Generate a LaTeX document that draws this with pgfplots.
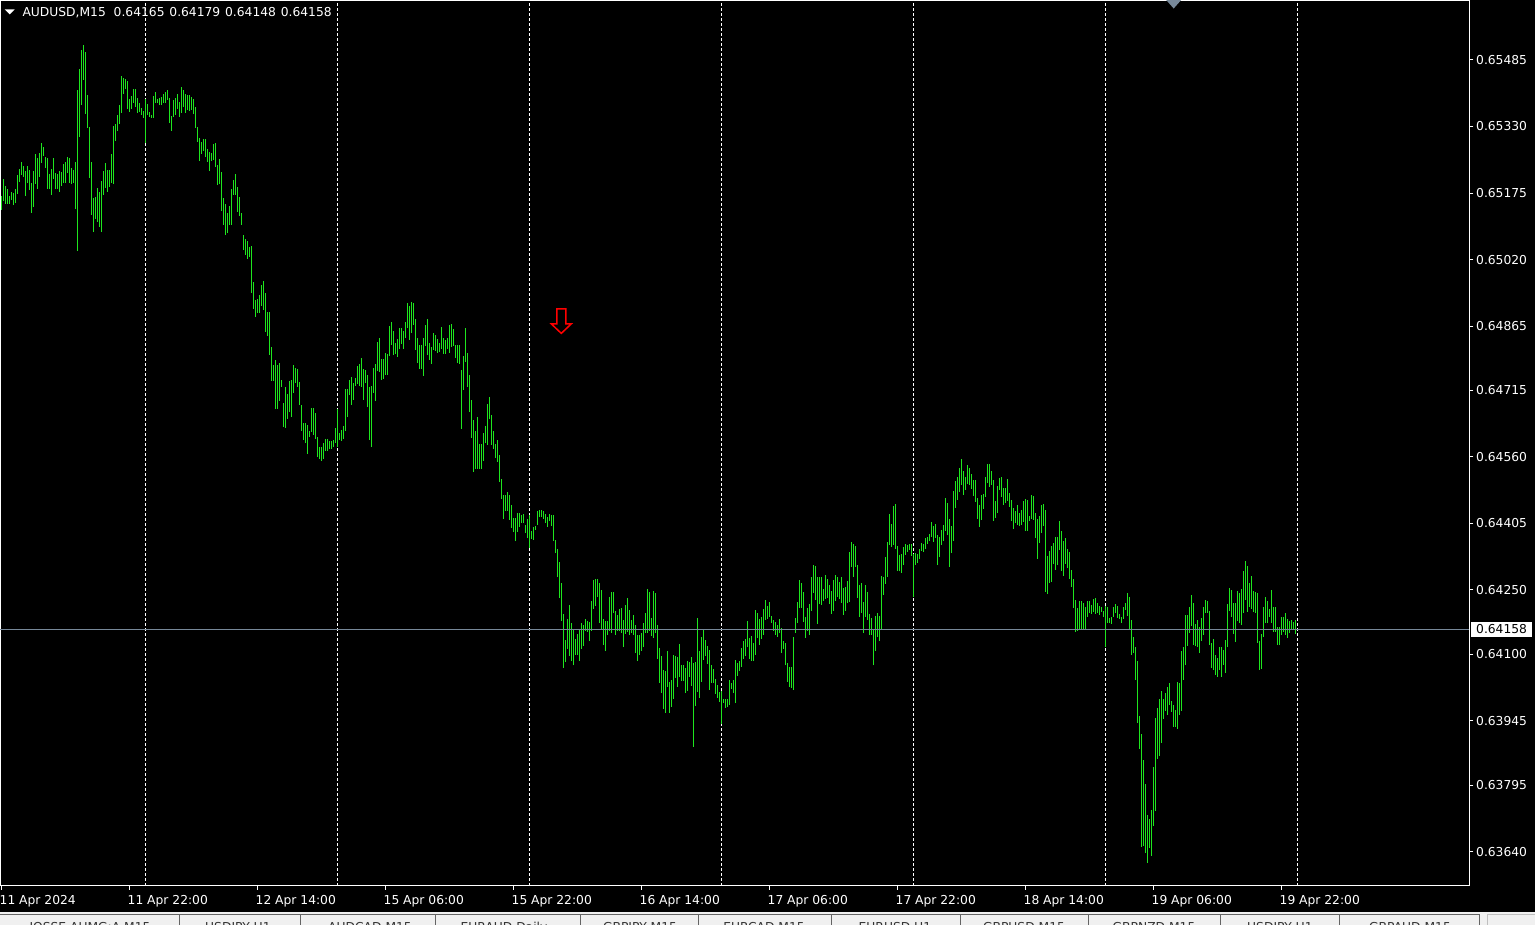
\documentclass[border=0pt]{standalone}
\usepackage{fontspec}
\setmainfont{DejaVu Sans}
\usepackage{pgfplots}
\pgfplotsset{compat=1.18}
\definecolor{bargreen}{RGB}{30,230,30}
\definecolor{slate}{RGB}{119,136,153}
\definecolor{tabbg}{RGB}{240,240,240}
\definecolor{tabline}{RGB}{100,100,100}
\newcommand\mt{\fontsize{12.3bp}{14bp}\selectfont}

\begin{document}
\begin{tikzpicture}
\useasboundingbox (0,0) rectangle (1535bp,-925bp);
\fill[black] (0,0) rectangle (1535bp,-925bp);
% terminal tabs strip
\fill[tabbg] (0,-912.3bp) rectangle (1535bp,-925bp);
\draw[tabline, line width=1bp] (0,-914.8bp) -- (1479.5bp,-914.8bp) -- (1479.5bp,-925bp);
\draw[black!25, line width=1bp] (1487bp,-925bp) -- (1487bp,-914.8bp) -- (1535bp,-914.8bp);
\foreach \x in {179,300,435,580,698,831,960,1088,1220,1339}
  \draw[tabline, line width=1bp] (\x bp,-914.8bp) -- (\x bp,-925bp);
\begin{scope}[every node/.style={anchor=base, inner sep=0pt, font=\mt, text=black!80}]
\node at (90bp,-931bp) {IOSSE,AUMG:A,M15};
\node at (238bp,-931bp) {USDJPY,H1};
\node at (370bp,-931bp) {AUDCAD,M15};
\node at (504bp,-931bp) {EURAUD,Daily};
\node at (640bp,-931bp) {GBPJPY,M15};
\node at (764bp,-931bp) {EURCAD,M15};
\node at (895bp,-931bp) {EURUSD,H1};
\node at (1024bp,-931bp) {GBPUSD,M15};
\node at (1154bp,-931bp) {GBPNZD,M15};
\node at (1280bp,-931bp) {USDJPY,H1};
\node at (1410bp,-931bp) {GBPAUD,M15};
\end{scope}
\begin{axis}[
  at={(0,0)}, anchor=north west,
  scale only axis, width=1469.5bp, height=885.5bp,
  xmin=-0.75, xmax=734, ymin=0.635612, ymax=0.656248,
  clip=false,
  axis line style={white, line width=1bp},
  tick align=outside, major tick length=4bp,
  tick style={white, line width=1bp},
  xtick pos=left, ytick pos=right, yticklabel pos=right,
  xtick={0,64,128,192,256,320,384,448,512,576,640},
  xticklabels={11 Apr 2024, 11 Apr 22:00, 12 Apr 14:00, 15 Apr 06:00, 15 Apr 22:00, 16 Apr 14:00, 17 Apr 06:00, 17 Apr 22:00, 18 Apr 14:00, 19 Apr 06:00, 19 Apr 22:00},
  ytick={0.65485,0.65330,0.65175,0.65020,0.64865,0.64715,0.64560,0.64405,0.64250,0.64100,0.63945,0.63795,0.63640},
  yticklabels={0.65485,0.65330,0.65175,0.65020,0.64865,0.64715,0.64560,0.64405,0.64250,0.64100,0.63945,0.63795,0.63640},
  scaled y ticks=false,
  ticklabel style={font=\mt, text=white, inner sep=0pt},
  xticklabel style={anchor=north west, xshift=-2bp, yshift=-6bp},
  yticklabel style={anchor=west, xshift=2.5bp},
  extra x ticks={72,168,264,360,456,552,648},
  extra x tick labels={},
  extra x tick style={grid=major, tick style={draw=none}},
  major grid style={white, line width=1bp, dash pattern=on 3bp off 2bp},
]
% AUDUSD M15 bars from 11 Apr 06:00: each bar = (index, low) -- (index, high)
\addplot[forget plot, bargreen, line width=1bp, mark=none, empty line=jump, unbounded coords=jump] table[x=i, y=p] {
i p
0 0.65136
0 0.65168

1 0.65157
1 0.65208

2 0.65150
2 0.65192

3 0.65150
3 0.65185

4 0.65150
4 0.65168

5 0.65159
5 0.65178

6 0.65147
6 0.65175

7 0.65152
7 0.65185

8 0.65173
8 0.65217

9 0.65201
9 0.65231

10 0.65217
10 0.65248

11 0.65213
11 0.65238

12 0.65168
12 0.65227

13 0.65199
13 0.65238

14 0.65182
14 0.65229

15 0.65129
15 0.65199

16 0.65143
16 0.65227

17 0.65196
17 0.65266

18 0.65185
18 0.65257

19 0.65213
19 0.65269

20 0.65245
20 0.65292

21 0.65262
21 0.65283

22 0.65234
22 0.65259

23 0.65185
23 0.65257

24 0.65185
24 0.65220

25 0.65171
25 0.65231

26 0.65208
26 0.65257

27 0.65185
27 0.65222

28 0.65185
28 0.65220

29 0.65178
29 0.65227

30 0.65192
30 0.65224

31 0.65199
31 0.65243

32 0.65199
32 0.65248

33 0.65222
33 0.65259

34 0.65199
34 0.65257

35 0.65196
35 0.65234

36 0.65199
36 0.65229

37 0.65138
37 0.65248

38 0.65040
38 0.65415

39 0.65306
39 0.65464

40 0.65380
40 0.65509

41 0.65439
41 0.65520

42 0.65359
42 0.65504

43 0.65327
43 0.65404

44 0.65210
44 0.65329

45 0.65124
45 0.65248

46 0.65084
46 0.65164

47 0.65115
47 0.65166

48 0.65108
48 0.65187

49 0.65096
49 0.65178

50 0.65084
50 0.65203

51 0.65171
51 0.65227

52 0.65187
52 0.65245

53 0.65178
53 0.65229

54 0.65190
54 0.65229

55 0.65199
55 0.65266

56 0.65196
56 0.65331

57 0.65297
57 0.65336

58 0.65320
58 0.65357

59 0.65336
59 0.65380

60 0.65362
60 0.65448

61 0.65406
61 0.65443

62 0.65418
62 0.65441

63 0.65371
63 0.65436

64 0.65364
64 0.65394

65 0.65371
65 0.65401

66 0.65385
66 0.65418

67 0.65376
67 0.65418

68 0.65362
68 0.65397

69 0.65364
69 0.65385

70 0.65357
70 0.65373

71 0.65350
71 0.65366

72 0.65292
72 0.65394

73 0.65357
73 0.65383

74 0.65352
74 0.65364

75 0.65350
75 0.65357

76 0.65350
76 0.65401

77 0.65385
77 0.65411

78 0.65385
78 0.65394

79 0.65380
79 0.65397

80 0.65380
80 0.65399

81 0.65385
81 0.65406

82 0.65385
82 0.65411

83 0.65392
83 0.65415

84 0.65338
84 0.65397

85 0.65320
85 0.65355

86 0.65352
86 0.65392

87 0.65357
87 0.65397

88 0.65371
88 0.65406

89 0.65352
89 0.65387

90 0.65362
90 0.65422

91 0.65376
91 0.65415

92 0.65362
92 0.65406

93 0.65369
93 0.65404

94 0.65366
94 0.65404

95 0.65369
95 0.65399

96 0.65359
96 0.65394

97 0.65327
97 0.65376

98 0.65294
98 0.65329

99 0.65250
99 0.65303

100 0.65266
100 0.65294

101 0.65273
101 0.65301

102 0.65259
102 0.65301

103 0.65248
103 0.65278

104 0.65227
104 0.65271

105 0.65250
105 0.65269

106 0.65252
106 0.65290

107 0.65236
107 0.65292

108 0.65194
108 0.65241

109 0.65196
109 0.65255

110 0.65133
110 0.65224

111 0.65101
111 0.65164

112 0.65077
112 0.65150

113 0.65082
113 0.65129

114 0.65101
114 0.65145

115 0.65101
115 0.65185

116 0.65171
116 0.65206

117 0.65171
117 0.65220

118 0.65131
118 0.65190

119 0.65122
119 0.65166

120 0.65101
120 0.65129

121 0.65042
121 0.65077

122 0.65031
122 0.65068

123 0.65021
123 0.65063

124 0.65026
124 0.65049

125 0.64942
125 0.65052

126 0.64905
126 0.64968

127 0.64886
127 0.64926

128 0.64896
128 0.64928

129 0.64896
129 0.64938

130 0.64912
130 0.64961

131 0.64903
131 0.64970

132 0.64851
132 0.64942

133 0.64842
133 0.64898

134 0.64798
134 0.64898

135 0.64737
135 0.64816

136 0.64737
136 0.64774

137 0.64672
137 0.64786

138 0.64672
138 0.64774

139 0.64691
139 0.64779

140 0.64723
140 0.64740

141 0.64630
141 0.64686

142 0.64628
142 0.64723

143 0.64649
143 0.64707

144 0.64665
144 0.64737

145 0.64653
145 0.64740

146 0.64709
146 0.64774

147 0.64733
147 0.64768

148 0.64723
148 0.64765

149 0.64681
149 0.64735

150 0.64621
150 0.64681

151 0.64600
151 0.64639

152 0.64593
152 0.64639

153 0.64567
153 0.64635

154 0.64607
154 0.64621

155 0.64619
155 0.64674

156 0.64612
156 0.64674

157 0.64602
157 0.64663

158 0.64560
158 0.64607

159 0.64556
159 0.64583

160 0.64551
160 0.64583

161 0.64556
161 0.64593

162 0.64574
162 0.64602

163 0.64574
163 0.64602

164 0.64579
164 0.64598

165 0.64579
165 0.64598

166 0.64583
166 0.64600

167 0.64593
167 0.64628

168 0.64583
168 0.64672

169 0.64600
169 0.64616

170 0.64598
170 0.64623

171 0.64602
171 0.64632

172 0.64621
172 0.64719

173 0.64653
173 0.64719

174 0.64705
174 0.64740

175 0.64681
175 0.64747

176 0.64693
176 0.64733

177 0.64726
177 0.64744

178 0.64731
178 0.64772

179 0.64726
179 0.64777

180 0.64723
180 0.64791

181 0.64693
181 0.64765

182 0.64733
182 0.64763

183 0.64677
183 0.64751

184 0.64600
184 0.64723

185 0.64583
185 0.64726

186 0.64709
186 0.64768

187 0.64691
187 0.64777

188 0.64761
188 0.64828

189 0.64758
189 0.64837

190 0.64740
190 0.64788

191 0.64742
191 0.64788

192 0.64751
192 0.64803

193 0.64751
193 0.64800

194 0.64796
194 0.64865

195 0.64821
195 0.64875

196 0.64798
196 0.64854

197 0.64800
197 0.64826

198 0.64794
198 0.64835

199 0.64812
199 0.64861

200 0.64824
200 0.64861

201 0.64812
201 0.64854

202 0.64837
202 0.64875

203 0.64861
203 0.64919

204 0.64833
204 0.64912

205 0.64849
205 0.64921

206 0.64868
206 0.64919

207 0.64810
207 0.64882

208 0.64779
208 0.64837

209 0.64765
209 0.64821

210 0.64765
210 0.64821

211 0.64749
211 0.64837

212 0.64819
212 0.64868

213 0.64798
213 0.64882

214 0.64786
214 0.64826

215 0.64777
215 0.64816

216 0.64810
216 0.64849

217 0.64807
217 0.64844

218 0.64803
218 0.64835

219 0.64805
219 0.64826

220 0.64812
220 0.64863

221 0.64800
221 0.64837

222 0.64800
222 0.64833

223 0.64812
223 0.64837

224 0.64803
224 0.64868

225 0.64816
225 0.64870

226 0.64819
226 0.64859

227 0.64791
227 0.64821

228 0.64779
228 0.64821

229 0.64777
229 0.64821

230 0.64626
230 0.64763

231 0.64716
231 0.64796

232 0.64782
232 0.64861

233 0.64723
233 0.64803

234 0.64665
234 0.64751

235 0.64605
235 0.64693

236 0.64525
236 0.64646

237 0.64532
237 0.64621

238 0.64532
238 0.64653

239 0.64532
239 0.64590

240 0.64532
240 0.64590

241 0.64551
241 0.64616

242 0.64593
242 0.64632

243 0.64588
243 0.64684

244 0.64649
244 0.64700

245 0.64588
245 0.64658

246 0.64579
246 0.64621

247 0.64558
247 0.64590

248 0.64549
248 0.64600

249 0.64502
249 0.64565

250 0.64462
250 0.64509

251 0.64416
251 0.64472

252 0.64434
252 0.64472

253 0.64434
253 0.64479

254 0.64413
254 0.64472

255 0.64395
255 0.64448

256 0.64385
256 0.64418

257 0.64364
257 0.64418

258 0.64385
258 0.64430

259 0.64397
259 0.64430

260 0.64406
260 0.64425

261 0.64406
261 0.64427

262 0.64383
262 0.64402

263 0.64371
263 0.64416

264 0.64348
264 0.64425

265 0.64369
265 0.64388

266 0.64367
266 0.64397

267 0.64390
267 0.64399

268 0.64402
268 0.64434

269 0.64421
269 0.64437

270 0.64421
270 0.64437

271 0.64416
271 0.64434

272 0.64406
272 0.64427

273 0.64397
273 0.64421

274 0.64411
274 0.64427

275 0.64399
275 0.64425

276 0.64364
276 0.64425

277 0.64336
277 0.64367

278 0.64281
278 0.64346

279 0.64232
279 0.64315

280 0.64178
280 0.64267

281 0.64069
281 0.64194

282 0.64082
282 0.64134

283 0.64113
283 0.64183

284 0.64096
284 0.64215

285 0.64085
285 0.64173

286 0.64074
286 0.64157

287 0.64099
287 0.64136

288 0.64099
288 0.64148

289 0.64085
289 0.64159

290 0.64113
290 0.64173

291 0.64120
291 0.64168

292 0.64155
292 0.64183

293 0.64152
293 0.64178

294 0.64131
294 0.64176

295 0.64155
295 0.64225

296 0.64206
296 0.64274

297 0.64213
297 0.64276

298 0.64234
298 0.64276

299 0.64173
299 0.64267

300 0.64157
300 0.64250

301 0.64122
301 0.64183

302 0.64108
302 0.64178

303 0.64145
303 0.64178

304 0.64155
304 0.64234

305 0.64150
305 0.64246

306 0.64197
306 0.64246

307 0.64145
307 0.64201

308 0.64155
308 0.64192

309 0.64155
309 0.64206

310 0.64150
310 0.64208

311 0.64117
311 0.64180

312 0.64148
312 0.64215

313 0.64152
313 0.64232

314 0.64145
314 0.64204

315 0.64150
315 0.64180

316 0.64145
316 0.64192

317 0.64103
317 0.64168

318 0.64085
318 0.64145

319 0.64099
319 0.64145

320 0.64108
320 0.64150

321 0.64117
321 0.64173

322 0.64150
322 0.64197

323 0.64150
323 0.64253

324 0.64155
324 0.64246

325 0.64143
325 0.64185

326 0.64138
326 0.64248

327 0.64150
327 0.64244

328 0.64090
328 0.64168

329 0.64034
329 0.64115

330 0.64010
330 0.64096

331 0.63973
331 0.64064

332 0.63964
332 0.64062

333 0.64024
333 0.64108

334 0.63964
334 0.64036

335 0.63978
335 0.64041

336 0.63996
336 0.64099

337 0.64045
337 0.64096

338 0.64024
338 0.64094

339 0.64048
339 0.64124

340 0.64038
340 0.64076

341 0.64038
341 0.64074

342 0.64010
342 0.64069

343 0.64015
343 0.64085

344 0.64048
344 0.64082

345 0.64027
345 0.64094

346 0.63884
346 0.64080

347 0.63980
347 0.64082

348 0.64013
348 0.64185

349 0.63999
349 0.64108

350 0.64036
350 0.64141

351 0.64087
351 0.64159

352 0.64096
352 0.64134

353 0.64078
353 0.64120

354 0.64017
354 0.64110

355 0.64034
355 0.64076

356 0.64034
356 0.64066

357 0.64008
357 0.64043

358 0.63999
358 0.64029

359 0.63989
359 0.64013

360 0.63938
360 0.64015

361 0.63987
361 0.63996

362 0.63975
362 0.63996

363 0.63978
363 0.63996

364 0.63982
364 0.64041

365 0.64020
365 0.64032

366 0.64010
366 0.64041

367 0.63987
367 0.64087

368 0.64050
368 0.64080

369 0.64062
369 0.64085

370 0.64071
370 0.64115

371 0.64090
371 0.64131

372 0.64096
372 0.64136

373 0.64117
373 0.64178

374 0.64090
374 0.64138

375 0.64085
375 0.64143

376 0.64085
376 0.64127

377 0.64099
377 0.64204

378 0.64138
378 0.64197

379 0.64122
379 0.64183

380 0.64136
380 0.64187

381 0.64145
381 0.64206

382 0.64180
382 0.64227

383 0.64183
383 0.64213

384 0.64187
384 0.64222

385 0.64173
385 0.64190

386 0.64155
386 0.64180

387 0.64145
387 0.64176

388 0.64141
388 0.64168

389 0.64150
389 0.64183

390 0.64103
390 0.64162

391 0.64113
391 0.64131

392 0.64074
392 0.64127

393 0.64036
393 0.64080

394 0.64024
394 0.64071

395 0.64022
395 0.64071

396 0.64017
396 0.64141

397 0.64150
397 0.64185

398 0.64173
398 0.64222

399 0.64208
399 0.64274

400 0.64208
400 0.64267

401 0.64176
401 0.64246

402 0.64138
402 0.64187

403 0.64155
403 0.64208

404 0.64145
404 0.64218

405 0.64201
405 0.64281

406 0.64244
406 0.64308

407 0.64227
407 0.64306

408 0.64171
408 0.64281

409 0.64218
409 0.64281

410 0.64215
410 0.64281

411 0.64225
411 0.64253

412 0.64230
412 0.64285

413 0.64232
413 0.64276

414 0.64218
414 0.64262

415 0.64194
415 0.64248

416 0.64201
416 0.64274

417 0.64225
417 0.64285

418 0.64234
418 0.64281

419 0.64230
419 0.64269

420 0.64220
420 0.64281

421 0.64192
421 0.64255

422 0.64201
422 0.64257

423 0.64220
423 0.64271

424 0.64222
424 0.64339

425 0.64304
425 0.64362

426 0.64281
426 0.64357

427 0.64304
427 0.64353

428 0.64232
428 0.64308

429 0.64187
429 0.64262

430 0.64197
430 0.64267

431 0.64150
431 0.64222

432 0.64187
432 0.64262

433 0.64180
433 0.64246

434 0.64145
434 0.64194

435 0.64145
435 0.64185

436 0.64074
436 0.64157

437 0.64108
437 0.64190

438 0.64141
438 0.64197

439 0.64131
439 0.64190

440 0.64157
440 0.64283

441 0.64239
441 0.64281

442 0.64264
442 0.64327

443 0.64281
443 0.64362

444 0.64355
444 0.64427

445 0.64351
445 0.64404

446 0.64355
446 0.64446

447 0.64346
447 0.64451

448 0.64295
448 0.64353

449 0.64293
449 0.64332

450 0.64290
450 0.64334

451 0.64308
451 0.64351

452 0.64332
452 0.64357

453 0.64339
453 0.64355

454 0.64343
454 0.64357

455 0.64330
455 0.64357

456 0.64234
456 0.64334

457 0.64308
457 0.64336

458 0.64313
458 0.64334

459 0.64323
459 0.64346

460 0.64341
460 0.64360

461 0.64339
461 0.64357

462 0.64346
462 0.64371

463 0.64357
463 0.64374

464 0.64364
464 0.64381

465 0.64374
465 0.64409

466 0.64362
466 0.64400

467 0.64371
467 0.64404

468 0.64308
468 0.64378

469 0.64327
469 0.64374

470 0.64355
470 0.64390

471 0.64364
471 0.64402

472 0.64388
472 0.64464

473 0.64378
473 0.64453

474 0.64304
474 0.64416

475 0.64336
475 0.64400

476 0.64364
476 0.64481

477 0.64441
477 0.64504

478 0.64460
478 0.64514

479 0.64479
479 0.64535

480 0.64495
480 0.64556

481 0.64472
481 0.64528

482 0.64483
482 0.64514

483 0.64497
483 0.64541

484 0.64495
484 0.64535

485 0.64486
485 0.64521

486 0.64470
486 0.64507

487 0.64455
487 0.64507

488 0.64416
488 0.64464

489 0.64397
489 0.64448

490 0.64413
490 0.64472

491 0.64439
491 0.64474

492 0.64467
492 0.64514

493 0.64500
493 0.64544

494 0.64491
494 0.64544

495 0.64495
495 0.64528

496 0.64411
496 0.64507

497 0.64418
497 0.64458

498 0.64430
498 0.64493

499 0.64483
499 0.64511

500 0.64467
500 0.64514

501 0.64448
501 0.64488

502 0.64453
502 0.64488

503 0.64458
503 0.64509

504 0.64444
504 0.64477

505 0.64411
505 0.64460

506 0.64393
506 0.64441

507 0.64406
507 0.64434

508 0.64402
508 0.64448

509 0.64399
509 0.64430

510 0.64402
510 0.64437

511 0.64409
511 0.64458

512 0.64388
512 0.64462

513 0.64388
513 0.64460

514 0.64411
514 0.64423

515 0.64416
515 0.64472

516 0.64413
516 0.64470

517 0.64371
517 0.64430

518 0.64323
518 0.64416

519 0.64360
519 0.64423

520 0.64383
520 0.64448

521 0.64400
521 0.64451

522 0.64246
522 0.64437

523 0.64241
523 0.64330

524 0.64267
524 0.64341

525 0.64269
525 0.64353

526 0.64311
526 0.64360

527 0.64297
527 0.64374

528 0.64308
528 0.64374

529 0.64343
529 0.64411

530 0.64295
530 0.64388

531 0.64283
531 0.64364

532 0.64311
532 0.64371

533 0.64301
533 0.64346

534 0.64276
534 0.64339

535 0.64257
535 0.64297

536 0.64208
536 0.64276

537 0.64152
537 0.64227

538 0.64155
538 0.64208

539 0.64159
539 0.64225

540 0.64159
540 0.64225

541 0.64159
541 0.64220

542 0.64159
542 0.64211

543 0.64187
543 0.64225

544 0.64197
544 0.64225

545 0.64194
545 0.64215

546 0.64199
546 0.64230

547 0.64194
547 0.64232

548 0.64197
548 0.64220

549 0.64192
549 0.64213

550 0.64199
550 0.64211

551 0.64187
551 0.64201

552 0.64117
552 0.64213

553 0.64173
553 0.64211

554 0.64173
554 0.64185

555 0.64171
555 0.64187

556 0.64187
556 0.64211

557 0.64197
557 0.64218

558 0.64185
558 0.64213

559 0.64183
559 0.64194

560 0.64173
560 0.64187

561 0.64183
561 0.64211

562 0.64204
562 0.64220

563 0.64190
563 0.64244

564 0.64159
564 0.64234

565 0.64099
565 0.64180

566 0.64103
566 0.64141

567 0.64041
567 0.64117

568 0.63940
568 0.64085

569 0.63880
569 0.63957

570 0.63651
570 0.63915

571 0.63654
571 0.63854

572 0.63637
572 0.63798

573 0.63614
573 0.63726

574 0.63649
574 0.63717

575 0.63630
575 0.63738

576 0.63700
576 0.63838

577 0.63735
577 0.63952

578 0.63856
578 0.63975

579 0.63863
579 0.63996

580 0.63894
580 0.64015

581 0.63950
581 0.63996

582 0.63968
582 0.64010

583 0.63959
583 0.64024

584 0.63982
584 0.64032

585 0.63966
585 0.63992

586 0.63931
586 0.63982

587 0.63931
587 0.63971

588 0.63927
588 0.64036

589 0.63959
589 0.64034

590 0.63968
590 0.64108

591 0.64041
591 0.64117

592 0.64074
592 0.64192

593 0.64120
593 0.64192

594 0.64150
594 0.64211

595 0.64166
595 0.64239

596 0.64122
596 0.64220

597 0.64120
597 0.64171

598 0.64117
598 0.64180

599 0.64103
599 0.64164

600 0.64131
600 0.64185

601 0.64145
601 0.64211

602 0.64197
602 0.64227

603 0.64197
603 0.64225

604 0.64122
604 0.64201

605 0.64069
605 0.64127

606 0.64064
606 0.64136

607 0.64052
607 0.64099

608 0.64048
608 0.64092

609 0.64064
609 0.64117

610 0.64048
610 0.64117

611 0.64076
611 0.64110

612 0.64057
612 0.64134

613 0.64117
613 0.64218

614 0.64201
614 0.64255

615 0.64187
615 0.64250

616 0.64148
616 0.64220

617 0.64129
617 0.64220

618 0.64178
618 0.64248

619 0.64173
619 0.64244

620 0.64168
620 0.64253

621 0.64197
621 0.64295

622 0.64227
622 0.64318

623 0.64199
623 0.64306

624 0.64211
624 0.64267

625 0.64206
625 0.64283

626 0.64199
626 0.64248

627 0.64197
627 0.64246

628 0.64127
628 0.64244

629 0.64064
629 0.64131

630 0.64066
630 0.64148

631 0.64141
631 0.64211

632 0.64173
632 0.64234

633 0.64173
633 0.64225

634 0.64187
634 0.64206

635 0.64173
635 0.64250

636 0.64152
636 0.64211

637 0.64152
637 0.64211

638 0.64122
638 0.64164

639 0.64122
639 0.64164

640 0.64145
640 0.64187

641 0.64152
641 0.64187

642 0.64145
642 0.64197

643 0.64138
643 0.64183

644 0.64150
644 0.64178

645 0.64159
645 0.64180

646 0.64159
646 0.64176

647 0.64148
647 0.64179
};
% bid line
\addplot[forget plot, slate, line width=1bp] coordinates {(-0.75,0.64158) (734,0.64158)};
\node[fill=white, text=black, font=\mt, anchor=west, inner xsep=5bp, inner ysep=3bp, xshift=1.5bp] at (axis cs:734,0.64158) {0.64158};
% sell arrow
\draw[red, line width=1.5bp, fill=black, line join=miter]
  (axis cs:279.9,0.64905) ++(-4.5bp,0bp) -- ++(9bp,0bp) -- ++(0bp,-15bp) -- ++(5.5bp,0bp)
  -- ++(-10bp,-9.5bp) -- ++(-10bp,9.5bp) -- ++(5.5bp,0bp) -- cycle;
% chart shift marker
\fill[slate] (axis cs:586.1,0.656248) ++(-7.5bp,0bp) -- ++(15bp,0bp) -- ++(-7.5bp,-8.5bp) -- cycle;
% title
\fill[white] (rel axis cs:0,1) ++(4.7bp,-9.3bp) -- ++(10bp,0bp) -- ++(-5bp,-5bp) -- cycle;
\node[anchor=base west, inner sep=0pt, font=\mt, text=white, xshift=22.3bp, yshift=-16.7bp]
  at (rel axis cs:0,1) {AUDUSD,M15\hspace{7.9bp}0.64165\hspace{4.85bp}0.64179\hspace{4.85bp}0.64148\hspace{4.85bp}0.64158};
\end{axis}
\end{tikzpicture}
\end{document}
